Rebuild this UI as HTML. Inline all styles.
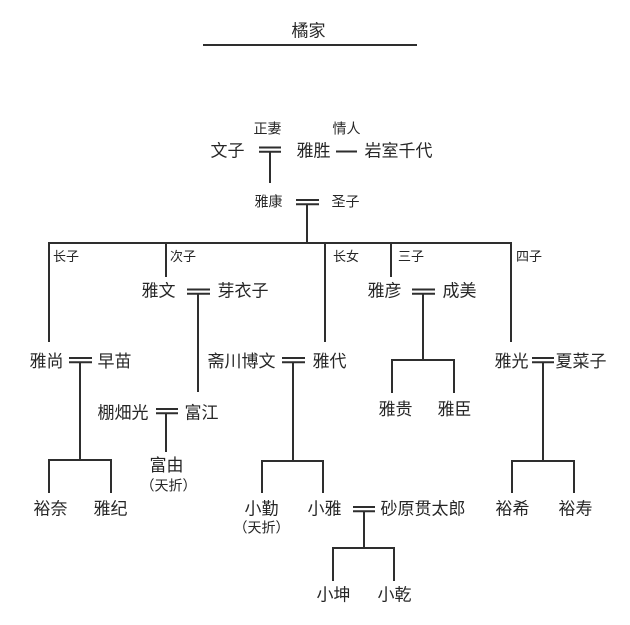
<!DOCTYPE html>
<html><head><meta charset="utf-8">
<style>
html,body{margin:0;padding:0;background:#fff;}
svg{display:block;}
text{font-family:"Liberation Sans","Noto Sans CJK SC","WenQuanYi Zen Hei",sans-serif;fill:#262626;}
.m{font-size:17px;}
.s{font-size:14px;}
.t{font-size:13px;}
line{stroke:#2e2e2e;stroke-width:2;}
</style></head>
<body>
<svg width="630" height="625" viewBox="0 0 630 625" xmlns="http://www.w3.org/2000/svg">
<!-- title -->
<text class="m" x="291.5" y="36.5">橘家</text>
<line x1="203" y1="45" x2="417" y2="45"/>

<!-- generation 1 -->
<text class="s" x="253.5" y="133.3">正妻</text>
<text class="s" x="332.5" y="133.3">情人</text>
<text class="m" x="210.5" y="156.5">文子</text>
<line x1="259" y1="147.5" x2="281" y2="147.5"/>
<line x1="259" y1="151.8" x2="281" y2="151.8"/>
<line x1="270" y1="151.8" x2="270" y2="183"/>
<text class="m" x="296.5" y="156.5">雅胜</text>
<line x1="336" y1="151.5" x2="357" y2="151.5"/>
<text class="m" x="364.5" y="156.5">岩室千代</text>

<!-- generation 2 -->
<text class="s" x="254.5" y="206.3">雅康</text>
<line x1="296" y1="200" x2="319" y2="200"/>
<line x1="296" y1="204.3" x2="319" y2="204.3"/>
<line x1="307" y1="204.3" x2="307" y2="243"/>
<text class="s" x="331.5" y="206.3">圣子</text>

<!-- sibling bar -->
<line x1="48" y1="243" x2="512" y2="243"/>
<line x1="49" y1="242" x2="49" y2="342"/>
<line x1="166" y1="242" x2="166" y2="277"/>
<line x1="325" y1="242" x2="325" y2="342"/>
<line x1="391" y1="242" x2="391" y2="277"/>
<line x1="511" y1="242" x2="511" y2="342"/>
<text class="t" x="53" y="261">长子</text>
<text class="t" x="170" y="261">次子</text>
<text class="t" x="333" y="261">长女</text>
<text class="t" x="398" y="261">三子</text>
<text class="t" x="516" y="261">四子</text>

<!-- generation 3 row a -->
<text class="m" x="141.5" y="296.5">雅文</text>
<line x1="187" y1="289.5" x2="210" y2="289.5"/>
<line x1="187" y1="293.8" x2="210" y2="293.8"/>
<line x1="198" y1="293.8" x2="198" y2="392"/>
<text class="m" x="217.5" y="296.5">芽衣子</text>

<text class="m" x="367.5" y="296.5">雅彦</text>
<line x1="412" y1="289.5" x2="435" y2="289.5"/>
<line x1="412" y1="293.8" x2="435" y2="293.8"/>
<line x1="423" y1="293.8" x2="423" y2="360"/>
<line x1="391" y1="360" x2="455" y2="360"/>
<line x1="392" y1="359" x2="392" y2="393"/>
<line x1="454" y1="359" x2="454" y2="393"/>
<text class="m" x="442.5" y="296.5">成美</text>
<text class="m" x="378.5" y="415">雅贵</text>
<text class="m" x="437.5" y="415">雅臣</text>

<!-- generation 3 row b -->
<text class="m" x="29.5" y="367">雅尚</text>
<line x1="69" y1="358" x2="92" y2="358"/>
<line x1="69" y1="362.3" x2="92" y2="362.3"/>
<line x1="80" y1="362.3" x2="80" y2="460"/>
<line x1="48" y1="460" x2="112" y2="460"/>
<line x1="49" y1="459" x2="49" y2="493"/>
<line x1="111" y1="459" x2="111" y2="493"/>
<text class="m" x="97.5" y="367">早苗</text>

<text class="m" x="207.5" y="367">斋川博文</text>
<line x1="282" y1="358" x2="305" y2="358"/>
<line x1="282" y1="362.3" x2="305" y2="362.3"/>
<line x1="293" y1="362.3" x2="293" y2="461"/>
<line x1="261" y1="461" x2="324" y2="461"/>
<line x1="262" y1="460" x2="262" y2="493"/>
<line x1="323" y1="460" x2="323" y2="493"/>
<text class="m" x="312.5" y="367">雅代</text>

<text class="m" x="494.5" y="367">雅光</text>
<line x1="532" y1="358" x2="554" y2="358"/>
<line x1="532" y1="362.3" x2="554" y2="362.3"/>
<line x1="543" y1="362.3" x2="543" y2="461"/>
<line x1="511" y1="461" x2="575" y2="461"/>
<line x1="512" y1="460" x2="512" y2="493"/>
<line x1="574" y1="460" x2="574" y2="493"/>
<text class="m" x="555.5" y="367">夏菜子</text>

<!-- 棚畑光 -->
<text class="m" x="97.5" y="418.5">棚畑光</text>
<line x1="156" y1="409" x2="178" y2="409"/>
<line x1="156" y1="413.3" x2="178" y2="413.3"/>
<line x1="166" y1="413.3" x2="166" y2="452"/>
<text class="m" x="184.5" y="418.5">富江</text>
<text class="m" x="166.5" y="471" text-anchor="middle">富由</text>
<text class="s" x="168.5" y="490.5" text-anchor="middle">（天折）</text>

<!-- generation 4 -->
<text class="m" x="33.5" y="514.5">裕奈</text>
<text class="m" x="93.5" y="514.5">雅纪</text>
<text class="m" x="244.5" y="514.5">小勤</text>
<text class="s" x="261.5" y="532.5" text-anchor="middle">（天折）</text>
<text class="m" x="307.5" y="514.5">小雅</text>
<line x1="353" y1="507" x2="375" y2="507"/>
<line x1="353" y1="511.3" x2="375" y2="511.3"/>
<line x1="364" y1="511.3" x2="364" y2="548"/>
<line x1="332" y1="548" x2="395" y2="548"/>
<line x1="333" y1="547" x2="333" y2="581"/>
<line x1="394" y1="547" x2="394" y2="581"/>
<text class="m" x="380.5" y="514.5">砂原贯太郎</text>
<text class="m" x="495.5" y="514.5">裕希</text>
<text class="m" x="558.5" y="514.5">裕寿</text>

<!-- generation 5 -->
<text class="m" x="316.5" y="600.5">小坤</text>
<text class="m" x="377.5" y="600.5">小乾</text>
</svg>
</body></html>
